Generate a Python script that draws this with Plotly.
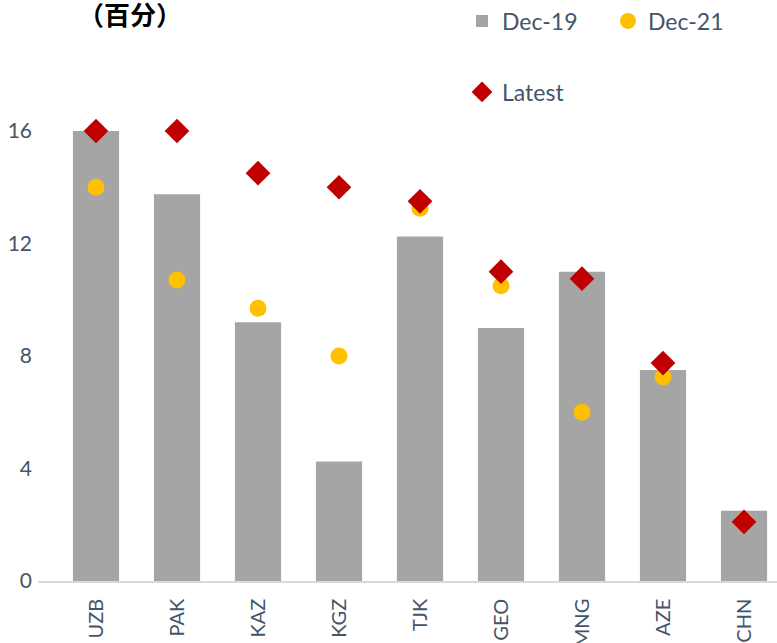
import plotly.graph_objects as go

categories = ["UZB", "PAK", "KAZ", "KGZ", "TJK", "GEO", "MNG", "AZE", "CHN"]
dec19 = [16.0, 13.75, 9.2, 4.25, 12.25, 9.0, 11.0, 7.5, 2.5]
dec21 = [14.0, 10.7, 9.7, 8.0, 13.25, 10.5, 6.0, 7.25, 2.15]
latest = [16.0, 16.0, 14.5, 14.0, 13.5, 11.0, 10.75, 7.75, 2.1]
y_ticks = [0, 4, 8, 12, 16]

font_family = "Lato, 'Open Sans', sans-serif"
tick_color = "#44546A"

W, H = 777, 643
L = 38
B = H - 581
PW, PH = W - L, H - B
UNIT_PX = 28.125
CAT_PX = 81.0


def px_x(x):
    return (x - L) / PW


def px_y(y):
    return (H - B - y) / PH


x0 = -(96 - 38) / CAT_PX

fig = go.Figure()
fig.add_trace(go.Bar(x=categories, y=dec19, name="Dec-19",
                     marker=dict(color="#A5A5A5", line=dict(width=0)),
                     width=0.57, legend="legend"))
fig.add_trace(go.Scatter(x=categories, y=dec21, name="Dec-21", mode="markers",
                         marker=dict(symbol="circle", size=17, color="#FFC000"),
                         legend="legend"))
fig.add_trace(go.Scatter(x=categories, y=latest, name="Latest", mode="markers",
                         marker=dict(symbol="diamond", size=19, color="#C00000"),
                         legend="legend2"))

fig.update_layout(
    width=W, height=H,
    margin=dict(l=L, r=0, t=0, b=B, autoexpand=False),
    plot_bgcolor="white", paper_bgcolor="white",
    font=dict(family=font_family, color=tick_color, size=20),
    showlegend=True,
    legend=dict(orientation="h", x=px_x(462), y=px_y(21), xanchor="left", yanchor="middle",
                font=dict(size=23, color=tick_color), entrywidth=101,
                bgcolor="rgba(0,0,0,0)"),
    legend2=dict(orientation="h", x=px_x(462), y=px_y(92), xanchor="left", yanchor="middle",
                 font=dict(size=23, color=tick_color), bgcolor="rgba(0,0,0,0)"),
)
fig.add_annotation(text="<b>（百分）</b>", xref="paper", yref="paper",
                   x=px_x(130), y=px_y(14),
                   xanchor="center", yanchor="middle", showarrow=False,
                   font=dict(family="'Noto Sans CJK SC'", size=26, color="black"))

fig.update_xaxes(
    range=[x0, x0 + PW / CAT_PX], showgrid=False, showline=True, linecolor="#D9D9D9",
    linewidth=1.5, tickangle=-90, ticks="", ticklabelstandoff=8,
    tickfont=dict(size=20, color=tick_color), zeroline=False,
)
fig.update_yaxes(
    range=[0, PH / UNIT_PX], tickvals=y_ticks, showgrid=False, showline=False, zeroline=False,
    ticks="", ticklabelstandoff=5, tickfont=dict(size=21, color=tick_color),
)

fig.write_html("out.html", config={"displayModeBar": False},
               post_script="document.body.style.margin='0px';")
